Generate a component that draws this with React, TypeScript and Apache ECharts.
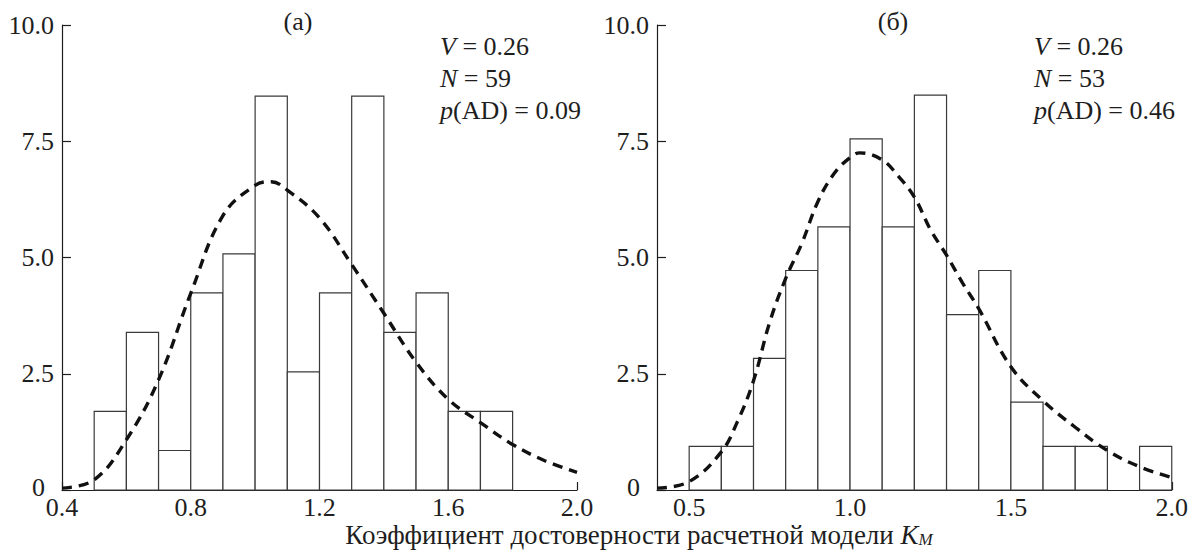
import React, { useEffect, useRef } from "react";
import * as echarts from "echarts";

// Panel (a)
const binStartsA = [0.5, 0.6, 0.7, 0.8, 0.9, 1.0, 1.1, 1.2, 1.3, 1.4, 1.5, 1.6, 1.7];
const heightsA = [1.69, 3.39, 0.85, 4.24, 5.08, 8.47, 2.54, 4.24, 8.47, 3.39, 4.24, 1.69, 1.69];
const curveXA = [0.4, 0.5, 0.6, 0.7, 0.8, 0.9, 1.0, 1.05, 1.1, 1.2, 1.3, 1.4, 1.5, 1.6, 1.7, 1.8, 1.9, 2.0];
const curveYA = [0.04, 0.22, 1.08, 2.37, 4.23, 5.9, 6.55, 6.63, 6.45, 5.85, 4.85, 3.8, 2.75, 1.95, 1.45, 0.98, 0.63, 0.38];
const xTicksA = [0.4, 0.8, 1.2, 1.6, 2.0];

// Panel (б)
const binStartsB = [0.5, 0.6, 0.7, 0.8, 0.9, 1.0, 1.1, 1.2, 1.3, 1.4, 1.5, 1.6, 1.7, 1.8, 1.9];
const heightsB = [0.94, 0.94, 2.83, 4.72, 5.66, 7.55, 5.66, 8.49, 3.77, 4.72, 1.89, 0.94, 0.94, 0, 0.94];
const curveXB = [0.4, 0.5, 0.6, 0.65, 0.7, 0.75, 0.8, 0.85, 0.9, 0.95, 1.0, 1.03, 1.1, 1.15, 1.2, 1.25, 1.3, 1.35, 1.4, 1.5, 1.6, 1.7, 1.8, 1.9, 2.0];
const curveYB = [0.04, 0.18, 0.82, 1.47, 2.35, 3.6, 4.55, 5.3, 6.2, 6.8, 7.15, 7.25, 7.1, 6.75, 6.3, 5.6, 5.05, 4.45, 3.9, 2.65, 1.92, 1.35, 0.85, 0.5, 0.27];
const xTicksB = [0.5, 1.0, 1.5, 2.0];

const binWidth = 0.1;

const statsA = ["0.26", "59", "0.09"];
const statsB = ["0.26", "53", "0.46"];
const panelTitles = ["(а)", "(б)"];
const xTitle = "Коэффициент достоверности расчетной модели ";

const FONT = "Liberation Serif";
const INK = "#1e1e1e";
const FS = 26;

function buildXAxis(gridIndex: number, ticks: number[]) {
  return {
    type: "value",
    gridIndex,
    min: 0.4,
    max: 2.0,
    axisLine: { show: true, lineStyle: { color: INK, width: 1.2 } },
    axisTick: { show: true, inside: true, length: 8, customValues: ticks, lineStyle: { color: INK, width: 1.2 } },
    axisLabel: {
      customValues: ticks,
      margin: 6,
      color: INK,
      fontFamily: FONT,
      fontSize: FS,
      lineHeight: 22,
      formatter: (v: number) => v.toFixed(1),
    },
    splitLine: { show: false },
  };
}

function buildYAxis(gridIndex: number) {
  return {
    type: "value",
    gridIndex,
    min: 0,
    max: 10,
    interval: 2.5,
    axisLine: { show: true, lineStyle: { color: INK, width: 1.2 } },
    axisTick: { show: true, inside: true, length: 9, lineStyle: { color: INK, width: 1.2 } },
    axisLabel: {
      margin: 8,
      color: INK,
      fontFamily: FONT,
      fontSize: FS,
      lineHeight: 20,
      formatter: (v: number) => (v === 0 ? "{z|0}" : v.toFixed(1)),
      rich: {
        z: { fontFamily: FONT, fontSize: FS, lineHeight: 20, color: INK, padding: [0, 9, 6, 0] },
      },
    },
    splitLine: { show: false },
  };
}

function histSeries(idx: number, starts: number[], heights: number[]) {
  return {
    type: "custom",
    xAxisIndex: idx,
    yAxisIndex: idx,
    z: 2,
    data: starts.map((s, i) => [s, s + binWidth, heights[i]]),
    encode: { x: [0, 1], y: 2 },
    renderItem: (_params: any, api: any) => {
      const x0 = api.value(0);
      const x1 = api.value(1);
      const h = api.value(2);
      if (!h) return { type: "group", children: [] };
      const p0 = api.coord([x0, h]);
      const p1 = api.coord([x1, 0]);
      return {
        type: "rect",
        shape: { x: p0[0], y: p0[1], width: p1[0] - p0[0], height: p1[1] - p0[1] },
        style: { fill: "#ffffff", stroke: "#3a3a3a", lineWidth: 1.2 },
      };
    },
  };
}

function curveSeries(idx: number, xs: number[], ys: number[]) {
  return {
    type: "line",
    xAxisIndex: idx,
    yAxisIndex: idx,
    z: 5,
    smooth: 0.4,
    showSymbol: false,
    symbol: "none",
    data: xs.map((x, i) => [x, ys[i]]),
    lineStyle: { color: "#111", width: 3.4, type: [10, 7] },
  };
}

function statText(left: number, vals: string[]) {
  const rich = {
    i: { fontFamily: FONT, fontSize: FS, fontStyle: "italic", fill: INK },
    r: { fontFamily: FONT, fontSize: FS, fill: INK },
  };
  const lines = [
    `{i|V}{r| = ${vals[0]}}`,
    `{i|N}{r| = ${vals[1]}}`,
    `{i|p}{r|(AD) = ${vals[2]}}`,
  ];
  const ys = [46, 78, 110];
  return lines.map((t, k) => ({
    type: "text",
    x: left,
    y: ys[k],
    style: { text: t, rich, fontFamily: FONT, fontSize: FS, fill: INK, verticalAlign: "middle" },
  }));
}

export default function App() {
  const ref = useRef<HTMLDivElement>(null);
  useEffect(() => {
    if (!ref.current) return;
    const chart = echarts.init(ref.current, null, { renderer: "svg" });
    chart.setOption({
      animation: false,
      backgroundColor: "#ffffff",
      grid: [
        { left: 62, top: 25, width: 515, height: 465 },
        { left: 657, top: 25, width: 516, height: 465 },
      ],
      xAxis: [buildXAxis(0, xTicksA), buildXAxis(1, xTicksB)],
      yAxis: [buildYAxis(0), buildYAxis(1)],
      series: [
        histSeries(0, binStartsA, heightsA),
        curveSeries(0, curveXA, curveYA),
        histSeries(1, binStartsB, heightsB),
        curveSeries(1, curveXB, curveYB),
      ],
      graphic: [
        {
          type: "text",
          x: 298,
          y: 21,
          style: { text: panelTitles[0], fontFamily: FONT, fontSize: FS, fill: INK, align: "center", verticalAlign: "middle" },
        },
        {
          type: "text",
          x: 893,
          y: 21,
          style: { text: panelTitles[1], fontFamily: FONT, fontSize: FS, fill: INK, align: "center", verticalAlign: "middle" },
        },
        ...statText(440, statsA),
        ...statText(1034, statsB),
        {
          type: "text",
          x: 639,
          y: 535,
          style: {
            text: `{r|${xTitle}}{i|K}{s|M}`,
            align: "center",
            verticalAlign: "middle",
            fontFamily: FONT,
            fontSize: 27,
            lineHeight: 26,
            fill: INK,
            rich: {
              r: { fontFamily: FONT, fontSize: 27, lineHeight: 26, fill: INK },
              i: { fontFamily: FONT, fontSize: 27, lineHeight: 26, fontStyle: "italic", fill: INK },
              s: { fontFamily: FONT, fontSize: 17, lineHeight: 18, fontStyle: "italic", fill: INK, verticalAlign: "bottom", padding: [8, 0, 0, 0] },
            },
          },
        },
      ],
    });
    return () => chart.dispose();
  }, []);
  return (
    <div
      ref={ref}
      style={{ position: "absolute", left: 0, top: 0, width: 1191, height: 550, background: "#fff" }}
    />
  );
}
